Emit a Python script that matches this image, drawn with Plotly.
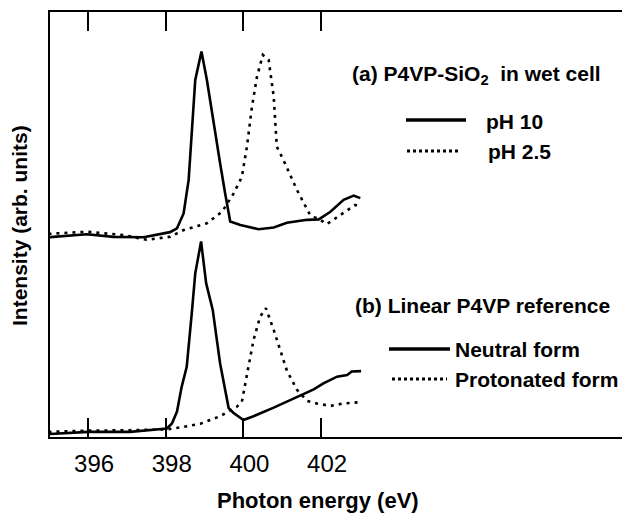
import plotly.graph_objects as go

# ---- data ----
# (a) P4VP-SiO2 in wet cell, pH 10 (solid)
a_ph10_E = [394.98, 395.97, 396.65, 397.43, 398.11, 398.29, 398.46, 398.59, 398.76, 398.92,
            399.06, 399.23, 399.40, 399.53, 399.66, 399.92, 400.39, 400.78, 401.12, 401.64,
            401.94, 402.24, 402.58, 402.84, 403.01]
a_ph10_I = [47.0, 47.7, 47.1, 47.0, 48.2, 49.1, 52.6, 60.5, 84.0, 90.7,
            84.0, 73.8, 64.4, 57.3, 50.7, 49.9, 48.9, 49.3, 50.4, 51.1,
            51.2, 53.0, 55.8, 56.8, 56.2]
# (a) pH 2.5 (dotted)
a_ph25_E = [394.98, 395.97, 396.92, 397.51, 398.11, 398.46, 399.06, 399.45, 399.75, 399.96,
            400.09, 400.22, 400.35, 400.50, 400.65, 400.78, 400.86, 401.03, 401.38, 401.72,
            401.98, 402.15, 402.49, 402.88, 402.97]
a_ph25_I = [47.8, 48.3, 47.5, 46.4, 47.1, 48.7, 50.3, 53.0, 57.3, 61.2,
            68.3, 77.7, 84.8, 89.9, 88.7, 80.1, 68.3, 65.2, 58.1, 52.2,
            51.1, 50.1, 52.2, 54.6, 54.2]
# (b) Linear P4VP reference, neutral form (solid)
b_neu_E = [394.98, 396.01, 397.08, 398.03, 398.16, 398.29, 398.41, 398.54, 398.67, 398.76,
           398.91, 399.04, 399.21, 399.40, 399.62, 399.74, 400.00, 400.26, 400.78, 401.29,
           401.81, 402.06, 402.41, 402.67, 402.79, 403.03]
b_neu_I = [0.7, 1.2, 1.2, 2.0, 3.2, 6.0, 11.8, 16.5, 29.1, 38.5,
           46.0, 36.2, 29.9, 17.3, 6.8, 5.7, 4.0, 4.9, 6.9, 9.1,
           11.2, 12.6, 14.2, 14.6, 15.4, 15.5]
# (b) protonated form (dotted)
b_pro_E = [394.98, 396.01, 397.08, 398.03, 398.46, 398.89, 399.40, 399.83, 399.96, 400.09,
           400.26, 400.43, 400.58, 400.78, 400.95, 401.12, 401.38, 401.64, 401.89, 402.24,
           402.58, 403.03]
b_pro_I = [1.2, 1.5, 1.6, 1.8, 2.4, 3.1, 4.9, 7.1, 8.3, 15.0,
           22.8, 28.3, 30.3, 25.2, 20.5, 15.6, 11.1, 8.5, 7.9, 7.3,
           7.9, 8.2]

tick_vals = [396, 398, 400, 402]
tick_text = ["396", "398", "400", "402"]

FONT = "Liberation Sans, Arial, sans-serif"
OFF = 8                      # page body margin in the browser
W, H = 630, 519
L, T = 42, 4                 # plot area starts at screen (50, 12)
PW, PH = W - L, 425
B = H - T - PH


def px(sx):
    return (sx - OFF - L) / PW


def py(sy):
    return (OFF + T + PH - sy) / PH


fig = go.Figure()
line_w = 2.6
fig.add_trace(go.Scatter(x=a_ph10_E, y=a_ph10_I, mode="lines",
                         line=dict(color="black", width=line_w), showlegend=False))
fig.add_trace(go.Scatter(x=a_ph25_E, y=a_ph25_I, mode="lines",
                         line=dict(color="black", width=line_w, dash="3px,5px"), showlegend=False))
fig.add_trace(go.Scatter(x=b_neu_E, y=b_neu_I, mode="lines",
                         line=dict(color="black", width=line_w), showlegend=False))
fig.add_trace(go.Scatter(x=b_pro_E, y=b_pro_I, mode="lines",
                         line=dict(color="black", width=line_w, dash="3px,5px"), showlegend=False))

ann = []
shapes = []


def text(x, y, s, size=21):
    ann.append(dict(x=px(x), y=py(y), xref="paper", yref="paper", text="<b>" + s + "</b>",
                    showarrow=False, xanchor="left", yanchor="middle", borderpad=0,
                    font=dict(family=FONT, size=size, color="black")))


def sample(x0, x1, y, dash):
    shapes.append(dict(type="line", xref="paper", yref="paper", x0=px(x0), x1=px(x1),
                       y0=py(y), y1=py(y),
                       line=dict(color="black", width=3.5 if dash == "solid" else 3,
                                 dash=dash)))


text(351, 75, "(a) P4VP-SiO<sub>2</sub>\u00a0 in wet cell")
sample(406, 466, 120, "solid")
text(485, 121, "pH 10")
sample(407, 458, 151, "3px,3px")
text(487, 151, "pH 2.5")

text(354, 305, "(b) Linear P4VP reference")
sample(389, 450, 349, "solid")
text(454, 349, "Neutral form")
sample(392, 447, 379, "3px,3px")
text(454, 379, "Protonated form")

# axis titles
ann.append(dict(x=px(318), y=py(500), xref="paper", yref="paper",
                text="<b>Photon energy (eV)</b>", showarrow=False,
                xanchor="center", yanchor="middle",
                font=dict(family=FONT, size=22, color="black")))
ann.append(dict(x=px(19), y=py(226), xref="paper", yref="paper",
                text="<b>Intensity (arb. units)</b>", showarrow=False, textangle=-90,
                xanchor="center", yanchor="middle",
                font=dict(family=FONT, size=21, color="black")))

fig.update_layout(
    width=W, height=H,
    margin=dict(l=L, r=0, t=T, b=B, pad=0),
    paper_bgcolor="white", plot_bgcolor="white",
    annotations=ann, shapes=shapes,
    xaxis=dict(range=[395.02, 410.16], tickvals=tick_vals, ticktext=tick_text,
               ticks="inside", ticklen=19, tickwidth=2, tickcolor="black",
               showline=True, linewidth=2, linecolor="black", mirror="ticks",
               showgrid=False, zeroline=False, ticklabelshift=6, ticklabelstandoff=4,
               tickfont=dict(family=FONT, size=24, color="black")),
    yaxis=dict(range=[0, 100], showticklabels=False, ticks="",
               showline=True, linewidth=2, linecolor="black", mirror=False,
               showgrid=False, zeroline=False),
)

fig.write_html("out.html")
